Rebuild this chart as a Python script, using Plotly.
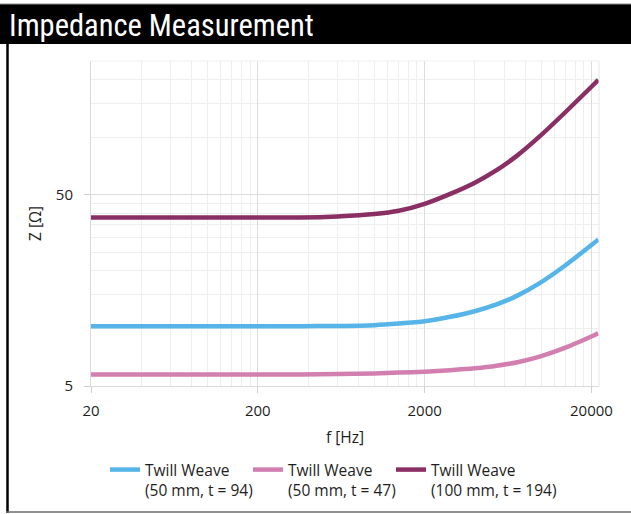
import numpy as np
import plotly.graph_objects as go

freq_hz = [20, 50, 100, 200, 360, 600, 1000, 1400, 2000, 2850, 4000, 5400, 7200, 9900, 13600, 20000, 22000]
z_twill_50_94 = [10.25, 10.25, 10.25, 10.25, 10.27, 10.3, 10.4, 10.6, 10.9, 11.5, 12.3, 13.34, 14.84, 17.36, 21.0, 27.3, 29.2]
z_twill_50_47 = [5.75, 5.75, 5.75, 5.75, 5.75, 5.77, 5.82, 5.88, 5.94, 6.05, 6.19, 6.38, 6.66, 7.15, 7.86, 9.07, 9.42]
z_twill_100_194 = [38, 38, 38, 38, 38.0, 38.5, 39.6, 41.2, 44.8, 50.5, 57.8, 67.2, 80.3, 101.8, 132.1, 183.4, 199.0]

series_names = ["Twill Weave<br>(50 mm, t = 94)", "Twill Weave<br>(50 mm, t = 47)", "Twill Weave<br>(100 mm, t = 194)"]
series_colors = ["#56b4e9", "#d27fb0", "#8a2f63"]

x_ticks = [20, 200, 2000, 20000]
y_ticks = [5, 50]
x_minor = [m * 10 ** e for e in range(1, 5) for m in (2, 4, 6, 8, 10, 12, 14, 16, 18)]
x_minor = [v for v in x_minor if 20 <= v <= 22200 and v not in x_ticks]
y_minor = [10, 15, 20, 25, 30, 35, 40, 45, 100, 150, 200, 250]

W, H = 631, 514
L, R, T, B = 91, 32, 61, 128
PW, PH = W - L - R, H - T - B

def px(x):
    return (x - L) / PW

def py(y):
    return 1 - (y - T) / PH

FONT = "Open Sans, Liberation Sans, sans-serif"
TEXT_COLOR = "#1e1e1e"
legend_ids = ["legend", "legend2", "legend3"]
legend_left_px = [105, 248, 391]

fig = go.Figure()
for ys, name, col, lid in zip([z_twill_50_94, z_twill_50_47, z_twill_100_194], series_names, series_colors, legend_ids):
    fig.add_trace(go.Scatter(x=freq_hz, y=ys, name=name, mode="lines", legend=lid,
                             line=dict(color=col, width=4.5, shape="spline", smoothing=0.6)))

axis_common = dict(type="log", showline=True, linecolor="#d9d9d9", linewidth=1,
                   gridcolor="#dcdcdc", gridwidth=1, ticks="outside", ticklen=6,
                   tickcolor="#cfcfcf", tickfont=dict(family=FONT, size=15, color=TEXT_COLOR),
                   zeroline=False, mirror=False, automargin=False)

fig.update_xaxes(**axis_common, range=[np.log10(20), np.log10(22200)],
                 tickmode="array", tickvals=x_ticks, ticktext=[str(v) for v in x_ticks],
                 ticklabelstandoff=5,
                 minor=dict(tickmode="array", tickvals=x_minor, showgrid=True,
                            gridcolor="#eeeeee", gridwidth=1, ticks=""))
fig.update_yaxes(**axis_common, range=[np.log10(5), np.log10(250)],
                 tickmode="array", tickvals=y_ticks, ticktext=[str(v) for v in y_ticks],
                 ticklabelstandoff=8,
                 minor=dict(tickmode="array", tickvals=y_minor, showgrid=True,
                            gridcolor="#eeeeee", gridwidth=1, ticks=""))

shapes = [
    dict(type="rect", xref="paper", yref="paper", x0=px(-2), x1=px(W + 2), y0=py(44), y1=py(4),
         fillcolor="black", line=dict(width=0), layer="above"),
    dict(type="line", xref="paper", yref="paper", x0=px(0), x1=px(W), y0=py(4), y1=py(4),
         line=dict(color="#8c8c8c", width=1)),
    dict(type="line", xref="paper", yref="paper", x0=px(7.5), x1=px(7.5), y0=py(44), y1=py(513),
         line=dict(color="black", width=2.5)),
    dict(type="line", xref="paper", yref="paper", x0=px(6), x1=px(W), y0=py(512), y1=py(512),
         line=dict(color="#6e6e6e", width=1.5)),
    dict(type="line", xref="paper", yref="paper", x0=1, x1=1, y0=0, y1=1,
         line=dict(color="#e6e6e6", width=1)),
    dict(type="line", xref="paper", yref="paper", x0=0, x1=1, y0=1, y1=1,
         line=dict(color="#efefef", width=1)),
]

annotations = [
    dict(text="Impedance Measurement", xref="paper", yref="paper", x=px(7), y=py(25),
         xanchor="left", yanchor="middle", showarrow=False,
         font=dict(family="Liberation Sans Narrow, Roboto Condensed, Roboto, sans-serif", size=30.5, color="white")),
    dict(text="Z [Ω]", xref="paper", yref="paper", x=px(35), y=py(224), textangle=-90,
         xanchor="center", yanchor="middle", showarrow=False,
         font=dict(family=FONT, size=15.5, color=TEXT_COLOR)),
    dict(text="f [Hz]", xref="paper", yref="paper", x=px(345), y=py(437),
         xanchor="center", yanchor="middle", showarrow=False,
         font=dict(family=FONT, size=15.5, color=TEXT_COLOR)),
]

legend_layout = {}
for lid, lx in zip(legend_ids, legend_left_px):
    legend_layout[lid] = dict(orientation="h", xref="container", yref="container",
                              x=lx / W, y=1 - 453 / H, xanchor="left", yanchor="top",
                              valign="top", font=dict(family=FONT, size=15.5, color=TEXT_COLOR),
                              bgcolor="rgba(0,0,0,0)", itemwidth=30)

fig.update_layout(
    width=W, height=H,
    margin=dict(l=L, r=R, t=T, b=B, pad=0, autoexpand=False),
    paper_bgcolor="white", plot_bgcolor="white",
    shapes=shapes, annotations=annotations,
    showlegend=True,
    **legend_layout,
)

fig.write_html("out.html", config={"displayModeBar": False},
               post_script="document.body.style.margin='0';document.body.style.padding='0';")
